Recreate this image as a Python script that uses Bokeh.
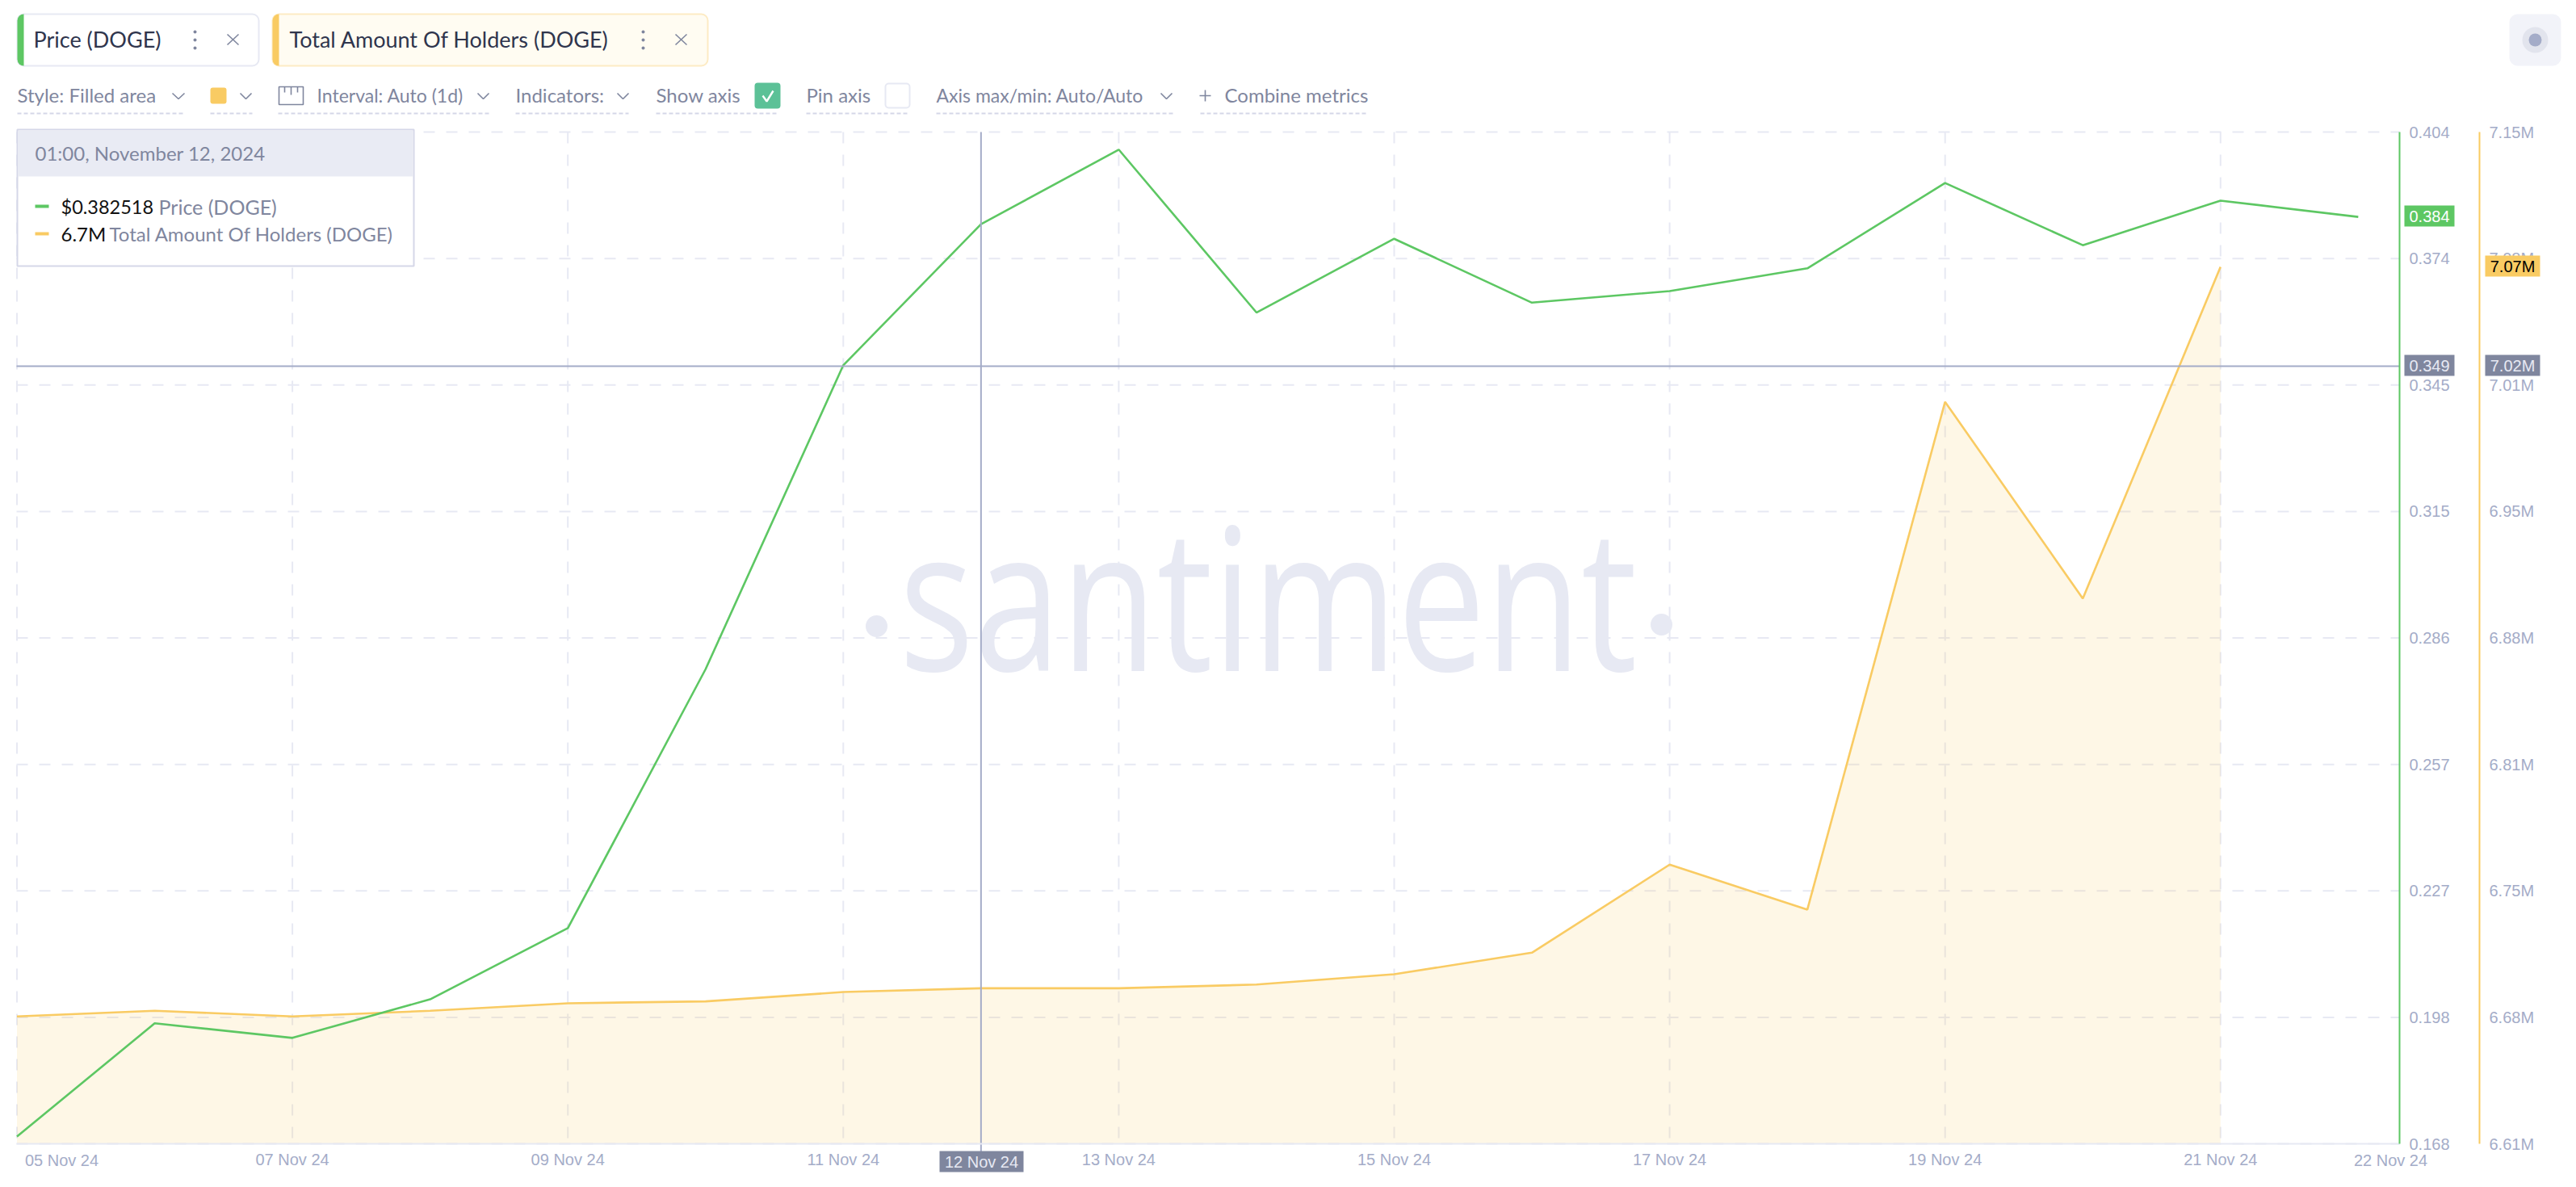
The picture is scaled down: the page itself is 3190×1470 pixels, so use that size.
from datetime import datetime, timedelta
from bokeh.document import Document
from bokeh.embed import file_html
from bokeh.resources import INLINE
from bokeh.plotting import figure
from bokeh.core.properties import value
from bokeh.models import (Range1d, LinearAxis, DatetimeAxis, FixedTicker, CustomJS,
                          DatetimeTickFormatter)

dates = [datetime(2024, 11, d) for d in range(5, 23)]
price = [0.1697, 0.1961, 0.1927, 0.2017, 0.2183, 0.2787, 0.3496, 0.3825, 0.3999,
         0.3619, 0.3791, 0.3642, 0.3669, 0.3722, 0.3921, 0.3776, 0.3880, 0.3842]
holders = [6.678, 6.681, 6.678, 6.681, 6.685, 6.686, 6.691, 6.693, 6.693,
           6.695, 6.7005, 6.712, 6.759, 6.735, 7.006, 6.901, 7.078]
price_labels = ["0.404", "0.374", "0.345", "0.315", "0.286", "0.257", "0.227", "0.198", "0.168"]
holder_labels = ["7.15M", "7.08M", "7.01M", "6.95M", "6.88M", "6.81M", "6.75M", "6.68M", "6.61M"]
price_ticks = [0.404 - i * 0.0295 for i in range(9)]
holder_ticks = [7.15 - i * 0.0675 for i in range(9)]
x_tick_days = [7, 9, 11, 13, 15, 17, 19, 21]
grid_days = [5, 7, 9, 11, 13, 15, 17, 19, 21]
cross_price = 0.3494
cross_day = datetime(2024, 11, 12)

GREEN = "#5DC763"
YELLOW = "#F9CB63"
GRID = "#E7E9F3"
MUTED = "#A4ACC8"
GREY = "#7F869E"
DARK = "#2F354D"
UI = "Lato"
AX = "Liberation Sans"

W, H = 3186, 1466
LEFT, RIGHT, TOP, BOTTOM = 20, 2971, 163, 1416     # plot box, in page pixels
DAY_PX = 170.55
X5 = 20.5                                           # page x of the first date

day = timedelta(days=1)
x_start = dates[0] - day * (X5 / DAY_PX)
x_end = x_start + day * (W / DAY_PX)
p_lo, p_hi = min(price_ticks), max(price_ticks)
h_lo, h_hi = min(holder_ticks), max(holder_ticks)
p_k = (p_hi - p_lo) / (BOTTOM - TOP)
h_k = (h_hi - h_lo) / (BOTTOM - TOP)

p = figure(width=W, height=H, output_backend="svg", toolbar_location=None,
           x_range=Range1d(x_start, x_end),
           y_range=Range1d(p_lo - (H - BOTTOM) * p_k, p_hi + TOP * p_k),
           x_axis_location=None, y_axis_location=None, min_border=0, outline_line_color=None)
p.grid.visible = False
p.extra_y_ranges["holders"] = Range1d(h_lo - (H - BOTTOM) * h_k, h_hi + TOP * h_k)
p.extra_x_ranges["px"] = Range1d(0, W)
p.extra_y_ranges["px"] = Range1d(H, 0)
PX = dict(x_range_name="px", y_range_name="px")


def ms(d):
    return (d - datetime(1970, 1, 1)).total_seconds() * 1000


def text(x, y, s, size, color, font=UI, align="left", level="glyph", baseline="middle"):
    p.text([x], [y], text=[s], text_font=value(font), text_font_size=f"{size}px", text_color=color,
           text_align=align, text_baseline=baseline, level=level, **PX)


def rect(l, r, t, b, fill, line=None, lw=2, radius=0, level="glyph"):
    p.quad(left=[l], right=[r], top=[t], bottom=[b], fill_color=fill, line_color=line, line_width=lw,
           border_radius=radius, level=level, **PX)


def stroke(xs, ys, color=GREY, lw=1.6, dash="solid"):
    p.line(xs, ys, line_color=color, line_width=lw, line_dash=dash, **PX)


def chev(x0, x1, y0=115, y1=122):
    stroke([x0, (x0 + x1) / 2, x1], [y0, y1, y0])


def under(x0, x1):
    stroke([x0, x1], [140, 140], color="#D5D7E8", lw=2, dash="5 3")


# ---------- watermark ----------
text(1570, 755, "santiment", 194, GRID, font="Open Sans", align="center", baseline="alphabetic")
p.scatter([1085, 2057], [775, 773], size=27, fill_color=GRID, line_color=None, **PX)

# ---------- grid ----------
p.segment(x0=[datetime(2024, 11, d) for d in grid_days], x1=[datetime(2024, 11, d) for d in grid_days],
          y0=[p_hi] * len(grid_days), y1=[p_lo] * len(grid_days),
          line_color=GRID, line_width=2, line_dash="14 14")
p.segment(x0=[LEFT] * 9, x1=[RIGHT] * 9, y0=price_ticks, y1=price_ticks, x_range_name="px",
          line_color=GRID, line_width=2, line_dash="14 14")

# ---------- series ----------
n = len(holders)
p.varea(x=dates[:n], y1=[h_lo] * n, y2=holders, y_range_name="holders", fill_color=YELLOW, fill_alpha=0.16)
p.line(dates[:n], holders, y_range_name="holders", line_color=YELLOW, line_width=2.6)
p.line(dates, price, line_color=GREEN, line_width=2.6)

# ---------- crosshair ----------
p.segment(x0=[LEFT], x1=[RIGHT], y0=[cross_price], y1=[cross_price], x_range_name="px",
          line_color=MUTED, line_width=2)
p.segment(x0=[cross_day], x1=[cross_day], y0=[TOP], y1=[1426], y_range_name="px",
          line_color=MUTED, line_width=2)

# ---------- axes ----------
ax = DatetimeAxis(y_range_name="px", fixed_location=BOTTOM, bounds=(ms(x_start + day * (LEFT / DAY_PX)),
                                                                     ms(x_start + day * (RIGHT / DAY_PX))),
                  ticker=FixedTicker(ticks=[ms(datetime(2024, 11, d)) for d in x_tick_days]),
                  formatter=DatetimeTickFormatter(days="%d %b %y", months="%d %b %y", hours="%d %b %y"),
                  axis_line_color=GRID, axis_line_width=2, major_tick_line_color=None,
                  minor_tick_line_color=None, major_label_text_font=AX, major_label_text_font_size="20px",
                  major_label_text_color=MUTED, major_label_standoff=2)
p.add_layout(ax, "below")

a1 = LinearAxis(x_range_name="px", fixed_location=RIGHT, bounds=(p_lo, p_hi),
                ticker=FixedTicker(ticks=price_ticks),
                major_label_overrides=dict(zip(price_ticks, price_labels)))
a2 = LinearAxis(x_range_name="px", y_range_name="holders", fixed_location=3070, bounds=(h_lo, h_hi),
                ticker=FixedTicker(ticks=holder_ticks),
                major_label_overrides=dict(zip(holder_ticks, holder_labels)))
for a, col in ((a1, GREEN), (a2, YELLOW)):
    a.axis_line_color = col
    a.axis_line_width = 2
    a.major_tick_line_color = None
    a.minor_tick_line_color = None
    a.major_tick_in = 0
    a.major_tick_out = 0
    a.major_label_text_font = AX
    a.major_label_text_font_size = "20px"
    a.major_label_text_color = MUTED
    a.major_label_standoff = 12
    p.add_layout(a, "right")

text(76, 1436, "05 Nov 24", 20, MUTED, font=AX, align="center")
text(2960, 1436, "22 Nov 24", 20, MUTED, font=AX, align="center")

# ---------- axis tags ----------
for l, r, t, b, fill, txt, col in (
        (2977, 3039, 254, 280, GREEN, "0.384", "white"),
        (3077, 3145, 316, 342, YELLOW, "7.07M", "black"),
        (2977, 3039, 439, 465, GREY, "0.349", GRID),
        (3077, 3145, 439, 465, GREY, "7.02M", GRID),
        (1163, 1267, 1425, 1451, GREY, "12 Nov 24", GRID)):
    rect(l, r, t, b, fill, level="overlay")
    text((l + r) / 2, (t + b) / 2, txt, 20, col, font=AX, align="center", level="overlay")

# ---------- tooltip ----------
rect(21, 512, 160, 329, "white", line="#D5D7E8", level="overlay")
rect(22, 511, 161, 218, "#E9EBF4", level="overlay")
text(43, 189, "01:00, November 12, 2024", 24, GREY, level="overlay")
rect(43, 60, 253, 257, GREEN, level="overlay")
rect(43, 60, 287, 291, YELLOW, level="overlay")
text(75, 255, "$0.382518", 23.5, "#111111", level="overlay")
text(196, 255, "Price (DOGE)", 25, GREY, level="overlay")
text(75, 289, "6.7M", 24, "#111111", level="overlay")
text(135, 289, "Total Amount Of Holders (DOGE)", 24, GREY, level="overlay")

# ---------- header chips ----------
rect(21, 320, 17, 81, "white", line=GRID, radius=8)
rect(21, 29, 17, 81, GREEN, radius=(8, 0, 0, 8))
rect(337, 876, 17, 81, "#FFFCF2", line="#FDEBC4", radius=8)
rect(337, 345, 17, 81, YELLOW, radius=(8, 0, 0, 8))
text(41, 48, "Price (DOGE)", 27, DARK)
text(358, 48, "Total Amount Of Holders (DOGE)", 27, DARK)
for x in (241, 796):
    p.scatter([x, x, x], [39, 49, 59], size=4, fill_color=GREY, line_color=None, **PX)
for x in (288, 843):
    stroke([x - 7, x + 7], [42, 55])
    stroke([x - 7, x + 7], [55, 42])

# ---------- controls row ----------
text(21, 117, "Style: Filled area", 24, GREY)
chev(213, 228)
under(21, 228)
rect(260, 280, 108, 128, YELLOW, radius=3)
chev(297, 311)
under(260, 312)
rect(345, 375, 107, 129, "white", line=GREY, lw=1.6)
for x, y1 in ((352, 114), (360, 117), (368, 114)):
    stroke([x, x], [107, y1])
text(392, 117, "Interval: Auto (1d)", 23, GREY)
chev(591, 605)
under(344, 606)
text(638, 117, "Indicators:", 24, GREY)
chev(764, 778)
under(638, 778)
text(812, 117, "Show axis", 24, GREY)
rect(934, 966, 102, 134, "#5CC197", radius=4)
stroke([944, 949, 957], [118, 125, 112], color="white", lw=2.4)
under(812, 962)
text(998, 117, "Pin axis", 24, GREY)
rect(1096, 1126, 103, 133, "white", line=GRID, radius=4)
under(998, 1126)
text(1159, 117, "Axis max/min: Auto/Auto", 23, GREY)
chev(1437, 1451)
under(1159, 1452)
stroke([1485, 1499], [118, 118])
stroke([1492, 1492], [111, 125])
text(1516, 117, "Combine metrics", 24, GREY)
under(1486, 1694)

# ---------- record button ----------
rect(3107, 3171, 17, 81, "#F2F3F9", radius=10)
p.scatter([3139], [49], size=32, fill_color="#E2E4ED", line_color=None, **PX)
p.scatter([3139], [49], size=16, fill_color=MUTED, line_color=None, **PX)

# the watermark is drawn condensed in the original: stretch its text element vertically
doc = Document()
doc.add_root(p)
doc.js_on_event("document_ready", CustomJS(code="""
function walk(root) {
  for (const el of root.querySelectorAll('*')) {
    if (el.shadowRoot) walk(el.shadowRoot);
    if (el.tagName.toLowerCase() === 'text' && el.textContent === 'santiment' && !el.dataset.st) {
      const y = parseFloat(el.getAttribute('y') || '0');
      const t = el.getAttribute('transform') || '';
      el.setAttribute('transform', t + ` translate(0 ${y}) scale(1 1.27) translate(0 ${-y})`);
      el.dataset.st = '1';
    }
  }
}
walk(document);
let n = 0;
const id = setInterval(() => { walk(document); if (++n > 20) clearInterval(id); }, 100);
"""))
open("out.html", "w").write(file_html(p, INLINE))
